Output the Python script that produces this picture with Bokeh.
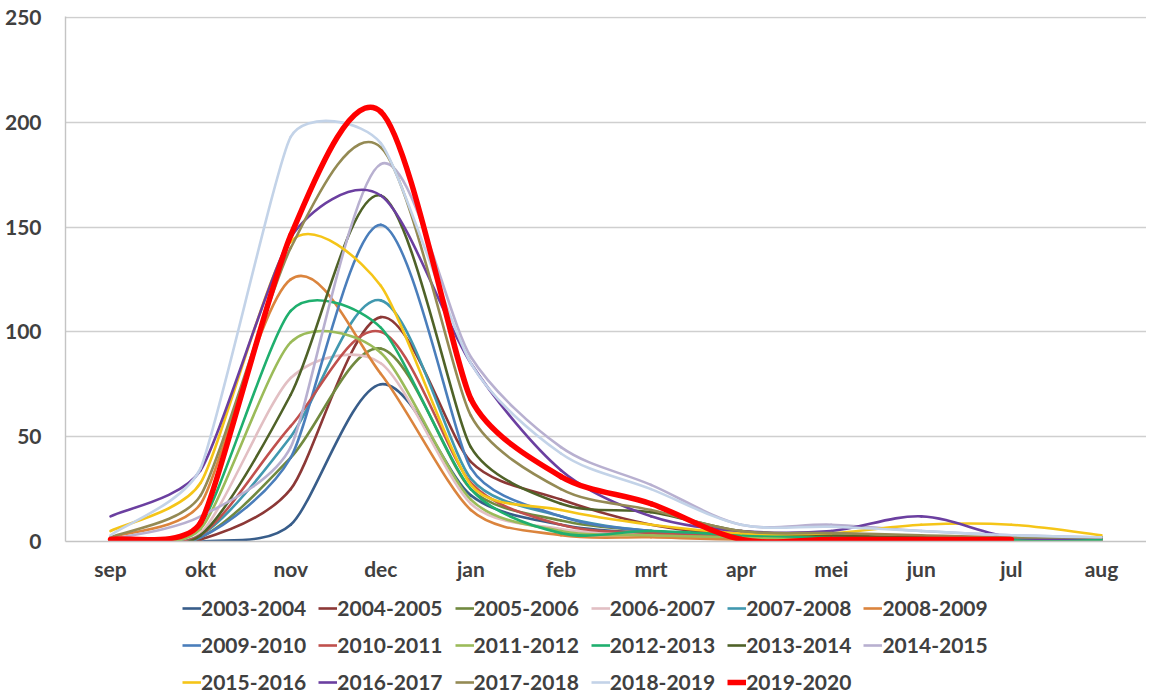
import math
from bokeh.plotting import figure
from bokeh.layouts import column
from bokeh.models import FactorRange, Range1d, Legend, LegendItem, FixedTicker, ColumnDataSource
from bokeh.embed import file_html
from bokeh.resources import INLINE

months = ["sep", "okt", "nov", "dec", "jan", "feb", "mrt", "apr", "mei", "jun", "jul", "aug"]
y_ticks = [0, 50, 100, 150, 200, 250]

seasons = ["2003-2004", "2004-2005", "2005-2006", "2006-2007", "2007-2008", "2008-2009",
           "2009-2010", "2010-2011", "2011-2012", "2012-2013", "2013-2014", "2014-2015",
           "2015-2016", "2016-2017", "2017-2018", "2018-2019", "2019-2020"]

v2003_2004 = [0, 0, 8, 75, 22, 8, 4, 2, 1, 1, 1, 1]
v2004_2005 = [0, 1, 25, 107, 38, 20, 8, 3, 2, 1, 1, 1]
v2005_2006 = [0, 2, 40, 92, 25, 10, 5, 3, 2, 1, 1, 1]
v2006_2007 = [0, 4, 78, 85, 18, 6, 3, 2, 1, 1, 1, 1]
v2007_2008 = [0, 3, 50, 115, 30, 12, 5, 3, 2, 1, 1, 1]
v2008_2009 = [2, 18, 125, 80, 15, 3, 2, 1, 1, 1, 1, 1]
v2009_2010 = [0, 2, 40, 151, 35, 12, 5, 3, 2, 1, 1, 1]
v2010_2011 = [0, 3, 55, 100, 28, 8, 4, 2, 1, 1, 1, 1]
v2011_2012 = [0, 6, 95, 90, 20, 5, 3, 2, 1, 1, 1, 1]
v2012_2013 = [0, 8, 110, 102, 25, 4, 5, 3, 2, 1, 1, 1]
v2013_2014 = [0, 3, 70, 165, 45, 18, 14, 5, 3, 2, 2, 2]
v2014_2015 = [1, 12, 45, 180, 88, 45, 27, 8, 8, 5, 3, 2]
v2015_2016 = [5, 28, 143, 122, 27, 15, 8, 4, 4, 8, 8, 3]
v2016_2017 = [12, 34, 145, 165, 85, 34, 12, 5, 5, 12, 2, 2]
v2017_2018 = [2, 22, 140, 188, 60, 25, 15, 5, 4, 3, 2, 2]
v2018_2019 = [3, 35, 193, 190, 85, 42, 25, 8, 7, 5, 3, 2]
v2019_2020 = [1, 9, 146, 205, 68, 31, 18, 1, 1, 1, 1, None]

series = [v2003_2004, v2004_2005, v2005_2006, v2006_2007, v2007_2008, v2008_2009,
          v2009_2010, v2010_2011, v2011_2012, v2012_2013, v2013_2014, v2014_2015,
          v2015_2016, v2016_2017, v2017_2018, v2018_2019, v2019_2020]

colors = ["#385D8A", "#8C3836", "#71893F", "#E2BFC3", "#4198AF", "#DB843D",
          "#4A7EBB", "#C0504D", "#9BBB59", "#1FAF6E", "#4F6228", "#B8B0D0",
          "#F5C518", "#6B3FA0", "#948A54", "#C3D3E8", "#FF0000"]
widths = [2.6] * 16 + [5.5]

FONT = "Lato"
W = 1146
LEFT, TOP, BOTTOM = 65, 16, 40
FRAME_H = 527
H1 = TOP + FRAME_H + BOTTOM
H2 = 694 - H1
Y_MAX = 250
# screen scale used only to size the smoothing arms (Excel smooths in screen space)
PX_X = (W - LEFT) / len(months)
PX_Y = FRAME_H / Y_MAX


def smooth_segments(vals):
    pts = [(i + 0.5, v) for i, v in enumerate(vals) if v is not None]
    n = len(pts)

    def dist(a, b):
        return math.hypot((a[0] - b[0]) * PX_X, (a[1] - b[1]) * PX_Y)

    def arm(prev, cur, nxt):
        # Catmull-Rom tangent (1/6 of neighbour chord), limited by the shorter adjacent chord
        full = dist(prev, nxt)
        if full == 0:
            return 0.0, 0.0
        length = min(full / 6.0, min(dist(prev, cur), dist(cur, nxt)) / 3.0)
        s = length / full
        return (nxt[0] - prev[0]) * s, (nxt[1] - prev[1]) * s

    arms = []
    for k in range(n):
        prev = pts[k - 1] if k > 0 else pts[k]
        nxt = pts[k + 1] if k + 1 < n else pts[k]
        if k == 0 or k == n - 1:
            # end points: arm one third towards the neighbour, scaled like Catmull-Rom
            full = dist(prev, nxt)
            s = 1.0 / 6.0
            arms.append(((nxt[0] - prev[0]) * s, (nxt[1] - prev[1]) * s))
        else:
            arms.append(arm(prev, pts[k], nxt))

    d = dict(x0=[], y0=[], x1=[], y1=[], cx0=[], cy0=[], cx1=[], cy1=[])
    for k in range(n - 1):
        p1, p2 = pts[k], pts[k + 1]
        a1, a2 = arms[k], arms[k + 1]
        d["x0"].append(p1[0]); d["y0"].append(p1[1])
        d["x1"].append(p2[0]); d["y1"].append(p2[1])
        d["cx0"].append(p1[0] + a1[0]); d["cy0"].append(p1[1] + a1[1])
        d["cx1"].append(p2[0] - a2[0]); d["cy1"].append(p2[1] - a2[1])
    return ColumnDataSource(d)


p = figure(width=W, height=H1, output_backend="svg", toolbar_location=None,
           x_range=FactorRange(factors=months, range_padding=0),
           y_range=Range1d(0, Y_MAX + 0.4),
           min_border_left=LEFT, min_border_right=0, min_border_top=TOP,
           min_border_bottom=BOTTOM)
p.outline_line_color = None
p.background_fill_color = "white"
p.border_fill_color = "white"

p.xgrid.grid_line_color = None
p.ygrid.grid_line_color = "#CFCFCF"
p.ygrid.grid_line_width = 1.4
p.yaxis.ticker = FixedTicker(ticks=y_ticks)

for ax in (p.xaxis[0], p.yaxis[0]):
    ax.axis_line_color = "#C4C4C4"
    ax.axis_line_width = 1.4
    ax.major_tick_line_color = None
    ax.minor_tick_line_color = None
    ax.major_label_text_font = FONT
    ax.major_label_text_font_style = "bold"
    ax.major_label_text_font_size = "21px"
    ax.major_label_text_color = "#404040"
p.yaxis.major_label_standoff = 18
p.xaxis.major_label_standoff = 8

for vals, col, w in zip(series, colors, widths):
    src = smooth_segments(vals)
    p.bezier(x0="x0", y0="y0", x1="x1", y1="y1", cx0="cx0", cy0="cy0", cx1="cx1", cy1="cy1",
             source=src, line_color=col, line_width=w, line_cap="round")

# legend in its own strip below the chart
pl = figure(width=W, height=H2, output_backend="svg", toolbar_location=None,
            x_range=Range1d(0, 1), y_range=Range1d(0, 1),
            x_axis_type=None, y_axis_type=None,
            min_border_left=0, min_border_right=0, min_border_top=0, min_border_bottom=0)
pl.outline_line_color = None
pl.xgrid.visible = False
pl.ygrid.visible = False
pl.background_fill_color = "white"
pl.border_fill_color = "white"

items = []
for s, col, w in zip(seasons, colors, widths):
    r = pl.line(x=[-5, -4], y=[-5, -5], line_color=col, line_width=w)
    items.append(LegendItem(label=s, renderers=[r]))

leg = Legend(items=items, orientation="horizontal", ncols=6, location=(117, 0),
             spacing=12, padding=0, margin=0, glyph_width=19, glyph_height=20,
             label_standoff=0, label_height=20,
             label_text_font=FONT, label_text_font_style="bold",
             label_text_font_size="21px", label_text_color="#404040",
             border_line_color=None, background_fill_alpha=0)
pl.add_layout(leg, "center")

open("out.html", "w").write(file_html(column(p, pl, spacing=0), INLINE))
